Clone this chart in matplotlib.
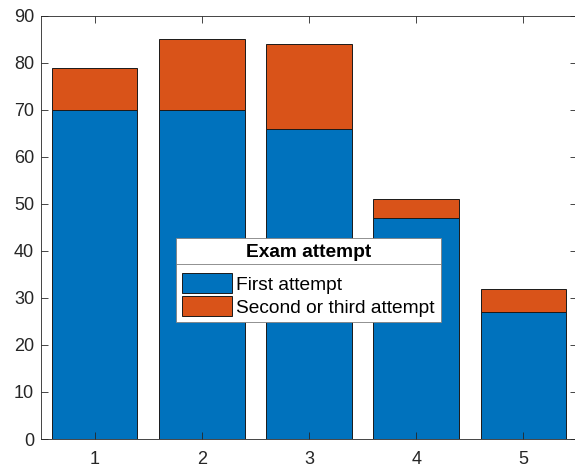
import numpy as np
import matplotlib
matplotlib.use('Agg')
import matplotlib.pyplot as plt
from matplotlib.lines import Line2D

plt.rcParams['font.family'] = ['Liberation Sans', 'DejaVu Sans']

attempts = [1, 2, 3, 4, 5]
firstAttempt = [70, 70, 66, 47, 27]
laterAttempt = [9, 15, 18, 4, 5]
seriesNames = ['First attempt', 'Second or third attempt']
legendTitle = 'Exam attempt'

blue = '#0072BD'
orange = '#D95319'
axisGrey = '#262626'

fig = plt.figure(figsize=(5.75, 4.72), dpi=100)
ax = fig.add_axes([41/575, 1 - 439/472, 536/575, 423/472])

ax.bar(attempts, firstAttempt, width=0.8, color=blue, edgecolor='#1a1a1a', linewidth=0.7,
       label=seriesNames[0])
ax.bar(attempts, laterAttempt, width=0.8, bottom=firstAttempt, color=orange,
       edgecolor='#1a1a1a', linewidth=0.7, label=seriesNames[1])

ax.set_xlim(0.5, 5.5)
ax.set_ylim(0, 90)
ax.set_xticks(attempts)
ax.set_yticks(np.arange(0, 91, 10))
ax.tick_params(direction='in', top=True, right=True, length=5, width=0.6,
               colors=axisGrey, labelsize=13, pad=5)
ax.tick_params(axis='x', pad=9)
for s in ax.spines.values():
    s.set_color(axisGrey)
    s.set_linewidth(0.6)

leg = ax.legend(loc='upper left', bbox_to_anchor=(176/575, 1 - 238/472),
                bbox_transform=fig.transFigure, title=legendTitle,
                fontsize=13.8, title_fontproperties={'weight': 'bold', 'size': 13.8},
                fancybox=False, framealpha=1, edgecolor='#7f7f7f',
                handlelength=2.6, handleheight=1.2, handletextpad=0.25,
                borderpad=0.3, labelspacing=0.15, borderaxespad=0)
leg.get_frame().set_linewidth(0.6)
leg._legend_box.sep = 9

# separator line under the legend title, like MATLAB legends
fig.canvas.draw()
frame = leg.get_frame().get_window_extent()
title_box = leg.get_title().get_window_extent()
sep_y = title_box.y0 - 3
inv = fig.transFigure.inverted()
x0, y0 = inv.transform((frame.x0, sep_y))
x1, _ = inv.transform((frame.x1, sep_y))
fig.add_artist(Line2D([x0, x1], [y0, y0], color='#7f7f7f', linewidth=0.6,
                      transform=fig.transFigure, zorder=10))

fig.savefig('out.png', dpi=100)
